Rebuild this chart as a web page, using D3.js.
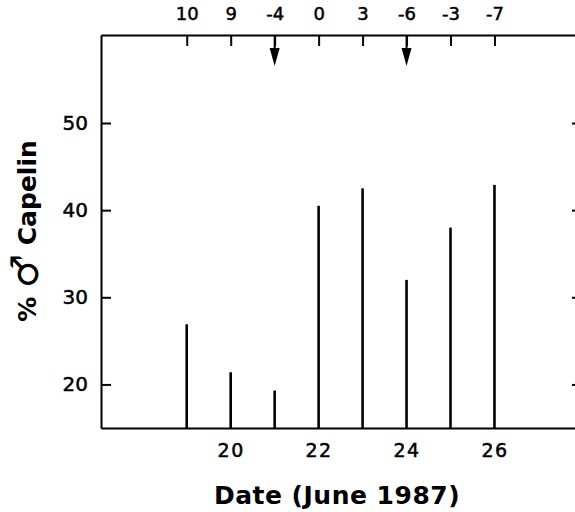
<!DOCTYPE html>
<html>
<head>
<meta charset="utf-8">
<script src="https://cdn.jsdelivr.net/npm/d3@7"></script>
<style>
  body { margin: 0; background: #fff; }
  svg { display: block; }
  text { font-family: "DejaVu Sans", sans-serif; fill: #000; }
  .title { font-weight: bold; }
  .domain, .tick line { stroke: #000; stroke-width: 2; }
</style>
</head>
<body>
<div id="chart"></div>
<script>
// data
const days = [19, 20, 21, 22, 23, 24, 25, 26];
const percentMale = [26.9, 21.4, 19.3, 40.5, 42.5, 32.0, 38.0, 42.9];
const topLabels = ["10", "9", "-4", "0", "3", "-6", "-3", "-7"];
const arrowDays = [21, 24];
const bottomTicks = [20, 22, 24, 26];
const yTicks = [20, 30, 40, 50];

const W = 575, H = 512;
const margin = {top: 35, right: -3, bottom: 84, left: 101};
const width = W - margin.left - margin.right;
const height = H - margin.top - margin.bottom;

const svg = d3.select("#chart").append("svg")
    .attr("width", W)
    .attr("height", H);

const g = svg.append("g")
    .attr("transform", "translate(" + margin.left + "," + margin.top + ")");

// scales
const x = d3.scaleLinear().domain([17.05, 27.9]).range([0, width]);
const y = d3.scaleLinear().domain([15, 60.1]).range([height, 0]);

// left axis, ticks pointing inward
g.append("g")
    .call(d3.axisLeft(y).tickValues(yTicks).tickSize(-10).tickPadding(13).tickSizeOuter(0))
    .call(a => a.selectAll("text").attr("font-size", 20).attr("stroke", "#000").attr("stroke-width", 0.5));

// right side ticks (axis line itself falls off the page)
g.append("g")
    .attr("transform", "translate(" + width + ",0)")
    .call(d3.axisRight(y).tickValues(yTicks).tickSize(-6).tickSizeOuter(0).tickFormat(""));

// bottom axis: labels only every other day, no ticks
g.append("g")
    .attr("transform", "translate(0," + height + ")")
    .call(d3.axisBottom(x).tickValues(bottomTicks).tickSize(0).tickPadding(16).tickSizeOuter(0).tickFormat(d3.format("d")))
    .call(a => a.selectAll("text").attr("font-size", 19).attr("letter-spacing", 1.5)
        .attr("stroke", "#000").attr("stroke-width", 0.5));

// top axis with the second row of numbers
g.append("g")
    .call(d3.axisTop(x).tickValues(days).tickSize(-11).tickPadding(15).tickSizeOuter(0)
        .tickFormat((d, i) => topLabels[i]))
    .call(a => a.selectAll("text").attr("font-size", 18).attr("stroke", "#000").attr("stroke-width", 0.5));

// spikes
g.selectAll(".bar")
    .data(days)
    .enter().append("line")
    .attr("class", "bar")
    .attr("x1", d => x(d))
    .attr("x2", d => x(d))
    .attr("y1", y(15))
    .attr("y2", (d, i) => y(percentMale[i]))
    .attr("stroke", "#000")
    .attr("stroke-width", 2.6);

// arrows hanging from the top axis
const arrows = g.selectAll(".arrow")
    .data(arrowDays)
    .enter().append("g")
    .attr("class", "arrow")
    .attr("transform", d => "translate(" + x(d) + ",0)");

arrows.append("line")
    .attr("y1", 0)
    .attr("y2", 16)
    .attr("stroke", "#000")
    .attr("stroke-width", 2);

arrows.append("path")
    .attr("d", "M-5,13 L5,13 L0,31 Z")
    .attr("fill", "#000");

// axis titles
svg.append("text")
    .attr("class", "title")
    .attr("x", 337)
    .attr("y", 504)
    .attr("text-anchor", "middle")
    .attr("font-size", 25)
    .attr("letter-spacing", 0.5)
    .text("Date (June 1987)");

const yt = svg.append("text")
    .attr("class", "title")
    .attr("transform", "translate(36,231) rotate(-90)")
    .attr("text-anchor", "middle")
    .attr("font-size", 25);
yt.append("tspan").text("% ");
yt.append("tspan").attr("font-size", 38).attr("font-weight", "normal").attr("dy", 2).text("♂");
yt.append("tspan").attr("dy", -2).text(" Capelin");
</script>
</body>
</html>
